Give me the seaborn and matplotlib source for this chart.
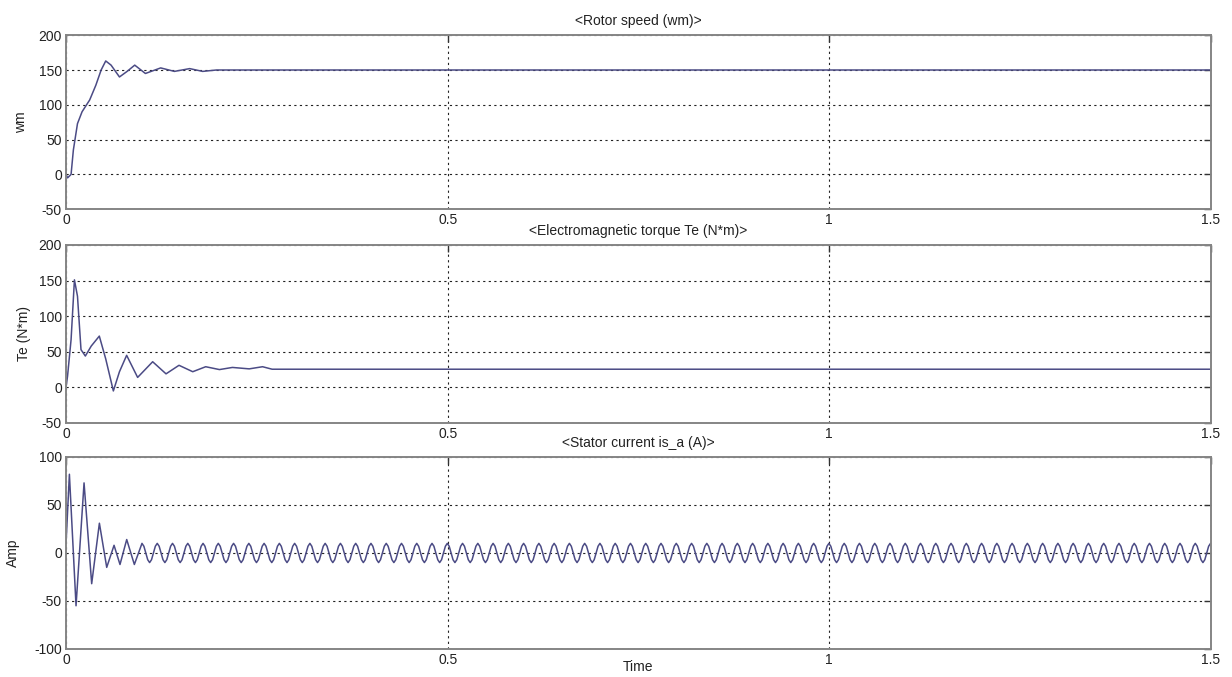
import numpy as np
import matplotlib
matplotlib.use("Agg")
import matplotlib.pyplot as plt
import seaborn as sns

# Rotor speed
speed_t = [0, 0.002, 0.0066, 0.0096, 0.015, 0.021, 0.031, 0.039, 0.046, 0.052, 0.059,
           0.070, 0.080, 0.090, 0.104, 0.124, 0.142, 0.162, 0.179, 0.197, 1.5]
speed_wm = [0, -5, 0, 35, 73, 90, 107, 128, 150, 163, 157,
            140, 148, 157, 145, 153, 148, 152, 148, 150, 150]

# Electromagnetic torque (middle panel)
torque_t = [0, 0.002, 0.0066, 0.011, 0.015, 0.0196, 0.0253, 0.033, 0.0436, 0.052, 0.062,
            0.070, 0.0794, 0.0938, 0.1135, 0.131, 0.148, 0.166, 0.183, 0.201, 0.218,
            0.240, 0.2575, 0.27, 1.5]
torque_te = [0, 16, 67, 151, 128, 53, 44, 58, 72, 40, -5,
             22, 45, 14, 36, 19, 31, 22, 29, 25, 28,
             26, 29, 25.5, 25.5]

# Stator current: start-up transient peaks, then one steady 50 Hz cycle that repeats
current_t_transient = [0, 0.0044, 0.0131, 0.0236, 0.0336, 0.0437, 0.0533, 0.0629, 0.0707, 0.0795, 0.0895]
current_transient = [10, 82, -55, 73, -32, 31, -15, 8, -12, 14, -12]
steady_start = 0.0995
steady_step = 0.0025
steady_cycle = [10, 7, 0, -7, -10, -7, 0, 7]

n_cycles = int(round((1.5 - steady_start) / (steady_step * len(steady_cycle))))
steady_vals = np.tile(steady_cycle, n_cycles)
steady_vals = np.append(steady_vals, steady_cycle[0])
steady_t = steady_start + steady_step * np.arange(len(steady_vals))
current_t = np.concatenate([current_t_transient, steady_t])
current_ia = np.concatenate([current_transient, steady_vals])

titles = ["<Rotor speed (wm)>", "<Electromagnetic torque Te (N*m)>", "<Stator current is_a (A)>"]
ylabels = ["wm", "Te (N*m)", "Amp"]
x_ticks = [0, 0.5, 1, 1.5]
x_ticklabels = ["0", "0.5", "1", "1.5"]
y_ticks = [[-50, 0, 50, 100, 150, 200], [-50, 0, 50, 100, 150, 200], [-100, -50, 0, 50, 100]]

sns.set_style("white")
plt.rcParams["font.family"] = ["Liberation Sans", "DejaVu Sans"]
plt.rcParams["axes.unicode_minus"] = False

fig = plt.figure(figsize=(12.32, 6.77), dpi=100)
rects = [[0.0536, 0.691, 0.9293, 0.257],
         [0.0536, 0.3752, 0.9293, 0.263],
         [0.0536, 0.0414, 0.9293, 0.2836]]
ylabel_x = [-0.033, -0.031, -0.040]
series = [(speed_t, speed_wm), (torque_t, torque_te), (current_t, current_ia)]
line_color = "#4b4b85"

for i, rect in enumerate(rects):
    ax = fig.add_axes(rect)
    t, v = series[i]
    sns.lineplot(x=np.asarray(t), y=np.asarray(v), ax=ax, color=line_color,
                 linewidth=1.1, estimator=None, sort=False)
    ax.set_xlim(0, 1.5)
    ax.set_ylim(y_ticks[i][0], y_ticks[i][-1])
    ax.set_xticks(x_ticks)
    ax.set_xticklabels(x_ticklabels)
    ax.set_yticks(y_ticks[i])
    ax.grid(True, color="#222222", linestyle=(0, (2, 3)), linewidth=0.8)
    ax.tick_params(direction="in", length=5, width=1, top=True, right=True,
                   labelsize=10, colors="#333333", labelcolor="#222222", pad=3)
    for sp in ax.spines.values():
        sp.set_color("#858585")
        sp.set_linewidth(1.4)
    ax.set_title(titles[i], fontsize=10, color="#222222", pad=7)
    ax.set_ylabel(ylabels[i], fontsize=10, color="#222222")
    ax.yaxis.set_label_coords(ylabel_x[i], 0.5)
    if i == 2:
        ax.set_xlabel("Time", fontsize=10, color="#222222")
        ax.xaxis.set_label_coords(0.5, -0.06)
    else:
        ax.set_xlabel("")

fig.savefig("out.png", dpi=100, facecolor="white")
